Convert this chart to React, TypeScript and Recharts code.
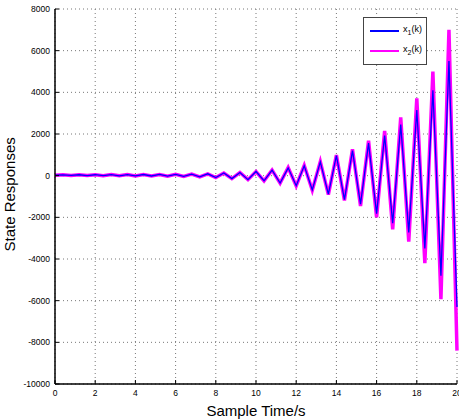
import React from 'react';
import { LineChart, Line, XAxis, YAxis, CartesianGrid, Legend } from 'recharts';

const sampleTimes = [
  0, 0.4, 0.8, 1.2, 1.6, 2, 2.4, 2.8, 3.2, 3.6, 4, 4.4, 4.8, 5.2, 5.6, 6, 6.4, 6.8, 7.2, 7.6,
  8, 8.4, 8.8, 9.2, 9.6, 10, 10.4, 10.8, 11.2, 11.6, 12, 12.4, 12.8, 13.2, 13.6, 14, 14.4, 14.8,
  15.2, 15.6, 16, 16.4, 16.8, 17.2, 17.6, 18, 18.4, 18.8, 19.2, 19.6, 20,
];

const x1Values = [
  20, 40, 10, 45, 5, 45, 0, 50, -5, 50, -10, 55, -15, 60, -25, 65, -35, 75, -60, 90,
  -90, 130, -140, 150, -190, 200, -245, 265, -355, 375, -480, 475, -680, 660, -890, 960, -1150, 1200,
  -1370, 1560, -1820, 1930, -2280, 2450, -2720, 3150, -3500, 4100, -4800, 5500, -6300,
];

const x2Values = [
  20, 40, 10, 45, 5, 45, 0, 50, -5, 50, -10, 55, -15, 60, -25, 65, -35, 75, -60, 90,
  -90, 130, -140, 150, -190, 200, -250, 270, -360, 390, -495, 490, -700, 670, -910, 990, -1190, 1267,
  -1455, 1680, -2000, 2145, -2573, 2800, -3168, 3715, -4205, 5000, -5933, 7000, -8400,
];

const xTicks = [0, 2, 4, 6, 8, 10, 12, 14, 16, 18, 20];
const yTicks = [-10000, -8000, -6000, -4000, -2000, 0, 2000, 4000, 6000, 8000];

const data = sampleTimes.map((t, i) => ({ t, x1: x1Values[i], x2: x2Values[i] }));

const FONT = '"Liberation Sans", Arial, sans-serif';
const TICK_LEN = 4;

const BottomTick = (props: any) => {
  const { x, y, payload } = props;
  return (
    <g>
      <line x1={x} x2={x} y1={y} y2={y - TICK_LEN} stroke="#000" />
      <text x={x} y={y + 12} textAnchor="middle" fontSize={8.5} fontFamily={FONT} fill="#000">
        {payload.value}
      </text>
    </g>
  );
};

const TopTick = (props: any) => {
  const { x, y } = props;
  return <line x1={x} x2={x} y1={y} y2={y + TICK_LEN} stroke="#000" />;
};

const LeftTick = (props: any) => {
  const { x, y, payload } = props;
  return (
    <g>
      <line x1={x} x2={x + TICK_LEN} y1={y} y2={y} stroke="#000" />
      <text x={x - 5} y={y + 3} textAnchor="end" fontSize={8.5} fontFamily={FONT} fill="#000">
        {payload.value}
      </text>
    </g>
  );
};

const RightTick = (props: any) => {
  const { x, y } = props;
  return <line x1={x} x2={x - TICK_LEN} y1={y} y2={y} stroke="#000" />;
};

const LegendBox = (props: any) => {
  const items = [...(props.payload || [])].sort((a: any, b: any) =>
    String(a.dataKey).localeCompare(String(b.dataKey))
  );
  return (
    <div
      style={{
        border: '1px solid #444',
        background: '#fff',
        padding: '3px 4px 3px 6px',
        fontFamily: FONT,
        fontSize: 9,
        lineHeight: '16px',
        textAlign: 'left',
      }}
    >
      {items.map((it: any) => (
        <div key={it.dataKey} style={{ display: 'flex', alignItems: 'center', whiteSpace: 'nowrap' }}>
          <span style={{ display: 'inline-block', width: 31, height: 2, background: it.color, marginRight: 4 }} />
          <span>
            x<sub style={{ fontSize: 7 }}>{String(it.dataKey).slice(1)}</sub>(k)
          </span>
        </div>
      ))}
    </div>
  );
};

export default function App() {
  return (
    <div style={{ position: 'absolute', left: 0, top: 0, width: 459, height: 420, background: '#fff' }}>
      <LineChart width={459} height={420} data={data} margin={{ top: 9, right: 2, left: 0, bottom: 0 }}>
        <CartesianGrid xAxisId="b" yAxisId="l" stroke="#777" strokeDasharray="1 3" />
        <XAxis
          xAxisId="b"
          dataKey="t"
          type="number"
          domain={[0, 20]}
          ticks={xTicks}
          height={36}
          tickSize={0}
          tickMargin={0}
          tickLine={false}
          tick={<BottomTick />}
          axisLine={{ stroke: '#000', strokeWidth: 1.5 }}
          label={{ value: 'Sample Time/s', position: 'insideBottom', offset: 4, fontSize: 15, fontFamily: FONT, fill: '#000' }}
          interval={0}
        />
        <XAxis
          xAxisId="top"
          orientation="top"
          type="number"
          domain={[0, 20]}
          ticks={xTicks}
          height={0}
          tickSize={0}
          tickMargin={0}
          tickLine={false}
          tick={<TopTick />}
          axisLine={{ stroke: '#000', strokeWidth: 1.2 }}
          interval={0}
        />
        <YAxis
          yAxisId="l"
          type="number"
          domain={[-10000, 8000]}
          ticks={yTicks}
          width={55}
          tickSize={0}
          tickMargin={0}
          tickLine={false}
          tick={<LeftTick />}
          axisLine={{ stroke: '#000', strokeWidth: 1.5 }}
          label={{ value: 'State Responses', angle: -90, position: 'insideLeft', offset: 10, dy: 55, fontSize: 15, fontFamily: FONT, fill: '#000' }}
          interval={0}
        />
        <YAxis
          yAxisId="r"
          orientation="right"
          type="number"
          domain={[-10000, 8000]}
          ticks={yTicks}
          width={0}
          tickSize={0}
          tickMargin={0}
          tickLine={false}
          tick={<RightTick />}
          axisLine={{ stroke: '#000', strokeWidth: 1.5 }}
          interval={0}
        />
        <Legend
          layout="horizontal"
          verticalAlign="middle"
          align="center"
          content={<LegendBox />}
          wrapperStyle={{ left: 363, top: 17, width: 64 }}
        />
        <Line
          xAxisId="b"
          yAxisId="l"
          dataKey="x2"
          stroke="#ff00ff"
          strokeWidth={3.5}
          dot={false}
          isAnimationActive={false}
        />
        <Line
          xAxisId="b"
          yAxisId="l"
          dataKey="x1"
          stroke="#0000ff"
          strokeWidth={1.3}
          dot={false}
          isAnimationActive={false}
        />
      </LineChart>
    </div>
  );
}
